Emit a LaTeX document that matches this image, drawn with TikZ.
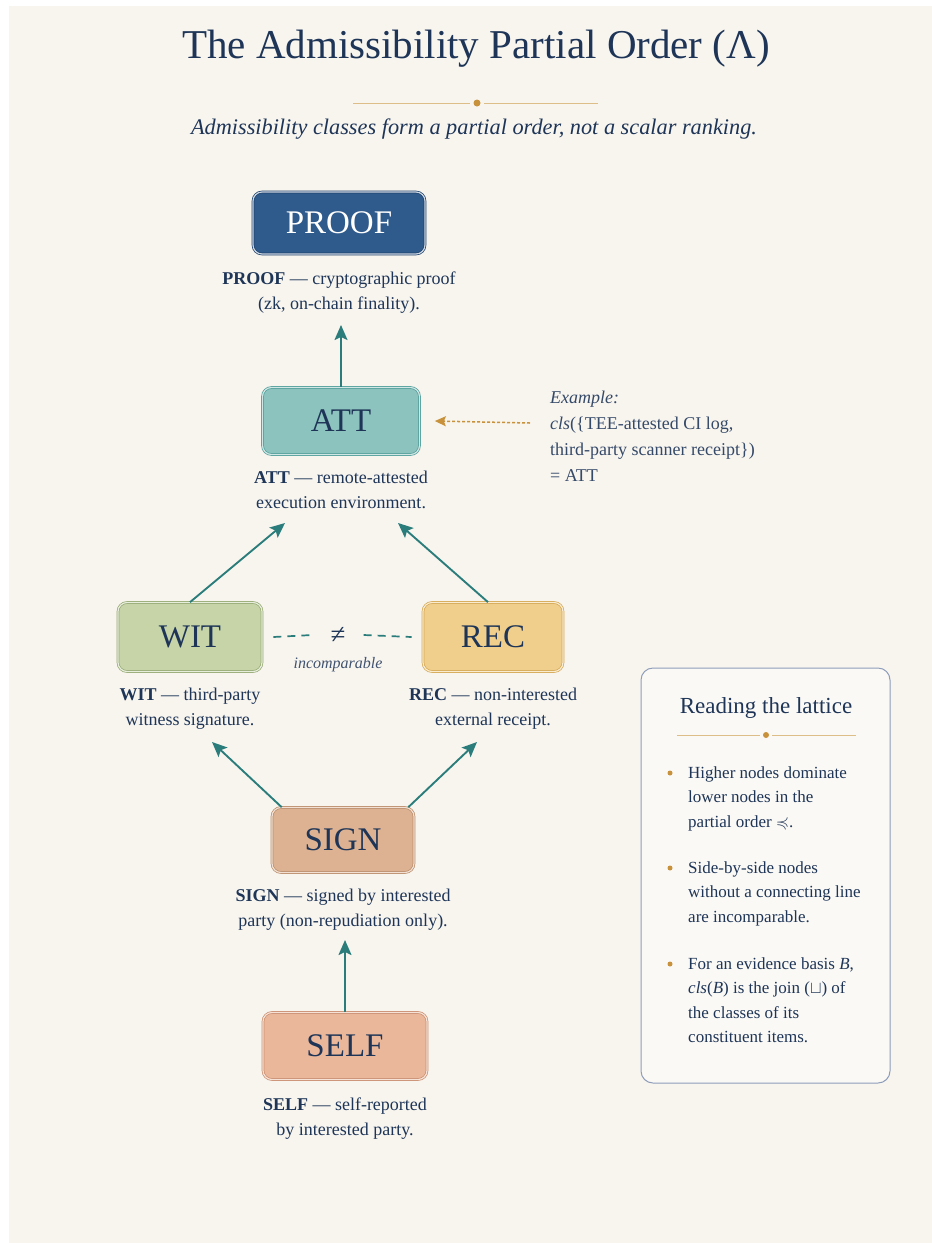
\documentclass[tikz,border=0pt]{standalone}
\usepackage{amssymb}
\usepackage{fontspec}
\setmainfont{Liberation Serif}
\usetikzlibrary{arrows.meta,positioning}

\definecolor{paper}{HTML}{F8F5EF}
\definecolor{ink}{HTML}{1E3557}
\definecolor{teal}{HTML}{2B7D7B}
\definecolor{gold}{HTML}{C8923C}
\definecolor{goldline}{HTML}{DDBE88}
\definecolor{panelline}{HTML}{8E9DBA}
\definecolor{prooffill}{HTML}{2F5B8C}
\definecolor{proofedge}{HTML}{1D416B}
\definecolor{attfill}{HTML}{8DC3BF}
\definecolor{attedge}{HTML}{4F9C98}
\definecolor{witfill}{HTML}{C6D4A8}
\definecolor{witedge}{HTML}{95A872}
\definecolor{recfill}{HTML}{F0CF8C}
\definecolor{recedge}{HTML}{D4A652}
\definecolor{signfill}{HTML}{DDB292}
\definecolor{signedge}{HTML}{B98C69}
\definecolor{selffill}{HTML}{EBB79B}
\definecolor{selfedge}{HTML}{C98D6E}

\tikzset{
  classbox/.style={rounded corners=9pt, line width=0.7pt, double distance=1.2pt,
    inner sep=0pt, text=ink, font=\fontsize{33}{33}\selectfont},
  proofbox/.style={classbox, fill=prooffill, draw=proofedge, double=white!75!prooffill, text=white},
  attbox/.style={classbox, fill=attfill, draw=attedge, double=white!60!attfill},
  witbox/.style={classbox, fill=witfill, draw=witedge, double=white!60!witfill},
  recbox/.style={classbox, fill=recfill, draw=recedge, double=white!60!recfill},
  signbox/.style={classbox, fill=signfill, draw=signedge, double=white!60!signfill},
  selfbox/.style={classbox, fill=selffill, draw=selfedge, double=white!60!selffill},
  caption/.style={align=center, inner sep=0pt, text=ink, font=\fontsize{18}{25}\selectfont},
  lift/.style={draw=teal, line width=1.9pt, -{Stealth[length=15pt,width=13pt,inset=3pt]}},
  incomp/.style={draw=teal, line width=1.7pt, dash pattern=on 8pt off 6pt},
  exarrow/.style={draw=gold, line width=1.5pt, dash pattern=on 3pt off 2pt, -{Stealth[length=11pt,width=10pt,inset=2pt]}},
  panel/.style={draw=panelline, fill=white!40!paper, rounded corners=12pt, line width=1pt},
  bullettext/.style={align=left, inner sep=0pt, anchor=north west, text=ink, font=\fontsize{17}{24.5}\selectfont},
  rule/.style={draw=goldline, line width=1pt}
}

\begin{document}
\begin{tikzpicture}[x=1pt,y=-1pt]
 \useasboundingbox (0,0) rectangle (932,1243);
 \fill [white] (0,0) rectangle (932,1243);
 \fill [paper] (9,6) rectangle (932,1243);

 \node [anchor=base, text=ink, font=\fontsize{41}{41}\selectfont] (title) at (476,58) {The Admissibility Partial Order (Λ)};
 \draw [rule] (353,103) -- (470,103);
 \draw [rule] (484,103) -- (598,103);
 \fill [gold] (477,103) circle (3.5);
 \node [anchor=base, text=ink, font=\fontsize{22.3}{23}\selectfont\itshape] (subtitle) at (474,134) {Admissibility classes form a partial order, not a scalar ranking.};

 \node [proofbox, minimum width=172pt, minimum height=62pt] (proof) at (339,223) {PROOF};
 \node [caption, below=17pt of proof] (proofcap) {\textbf{PROOF} — cryptographic proof\\(zk, on-chain finality).};

 \node [attbox, minimum width=157pt, minimum height=67pt] (att) at (341,421) {ATT};
 \node [caption, below=16pt of att] (attcap) {\textbf{ATT} — remote-attested\\execution environment.};

 \node [witbox, minimum width=144pt, minimum height=69pt] (wit) at (190,637) {WIT};
 \node [caption, below=16pt of wit] (witcap) {\textbf{WIT} — third-party\\witness signature.};

 \node [recbox, minimum width=140pt, minimum height=69pt] (rec) at (493,637) {REC};
 \node [caption, below=16pt of rec] (reccap) {\textbf{REC} — non-interested\\external receipt.};

 \node [signbox, minimum width=142pt, minimum height=65pt] (sign) at (343,840) {SIGN};
 \node [caption, below=16pt of sign] (signcap) {\textbf{SIGN} — signed by interested\\party (non-repudiation only).};

 \node [selfbox, minimum width=164pt, minimum height=67pt] (self) at (345,1046) {SELF};
 \node [caption, below=18pt of self] (selfcap) {\textbf{SELF} — self-reported\\by interested party.};

 \coordinate (proofTip) at (341,325);
 \coordinate (attTipL) at (285,523);
 \coordinate (attTipR) at (398,523);
 \coordinate (witTip) at (212,742);
 \coordinate (recTip) at (477,742);
 \coordinate (signTip) at (345,940);
 \draw [lift] (att.north) -- (proofTip);
 \draw [lift] (wit.north) -- (attTipL);
 \draw [lift] ([xshift=-5pt]rec.north) -- (attTipR);
 \draw [lift] ([xshift=10pt]sign.north west) -- (witTip);
 \draw [lift] ([xshift=-6pt]sign.north east) -- (recTip);
 \draw [lift] (self.north) -- (signTip);

 \node [inner sep=0pt, text=ink, font=\fontsize{27}{27}\selectfont] (neq) at (338,635) {≠};
 \draw [incomp] ([xshift=11pt]wit.east) -- ([xshift=-18pt]neq.west);
 \draw [incomp] ([xshift=18pt]neq.east) -- ([xshift=-11pt]rec.west);
 \node [text=ink!85, font=\fontsize{16}{16}\selectfont\itshape] (incomplabel) at (338,665) {incomparable};

 \node [anchor=north west, align=left, inner sep=0pt, text=ink!90, font=\fontsize{18}{26}\selectfont] (example) at (550,391) {\textit{Example:}\\\textit{cls}(\{TEE-attested CI log,\\third-party scanner receipt\})\\= ATT};
 \coordinate (exTail) at (530,423);
 \draw [exarrow] (exTail) -- ([xshift=15pt]att.east);

 \draw [panel] (641,668) rectangle (890,1083);
 \node [anchor=base, text=ink, font=\fontsize{23}{23}\selectfont] (paneltitle) at (766,713) {Reading the lattice};
 \draw [rule] (677,735) -- (760,735);
 \draw [rule] (772,735) -- (856,735);
 \fill [gold] (766,735) circle (3);
 \node [bullettext] (item1) at (688,766) {Higher nodes dominate\\lower nodes in the\\partial order $\preccurlyeq$.};
 \node [bullettext] (item2) at (688,861) {Side-by-side nodes\\without a connecting line\\are incomparable.};
 \node [bullettext] (item3) at (688,957) {For an evidence basis \textit{B},\\\textit{cls}(\textit{B}) is the join ($\sqcup$) of\\the classes of its\\constituent items.};
 \fill [gold] ([shift={(-18,7)}]item1.north west) circle (2.5);
 \fill [gold] ([shift={(-18,7)}]item2.north west) circle (2.5);
 \fill [gold] ([shift={(-18,7)}]item3.north west) circle (2.5);
\end{tikzpicture}
\end{document}
